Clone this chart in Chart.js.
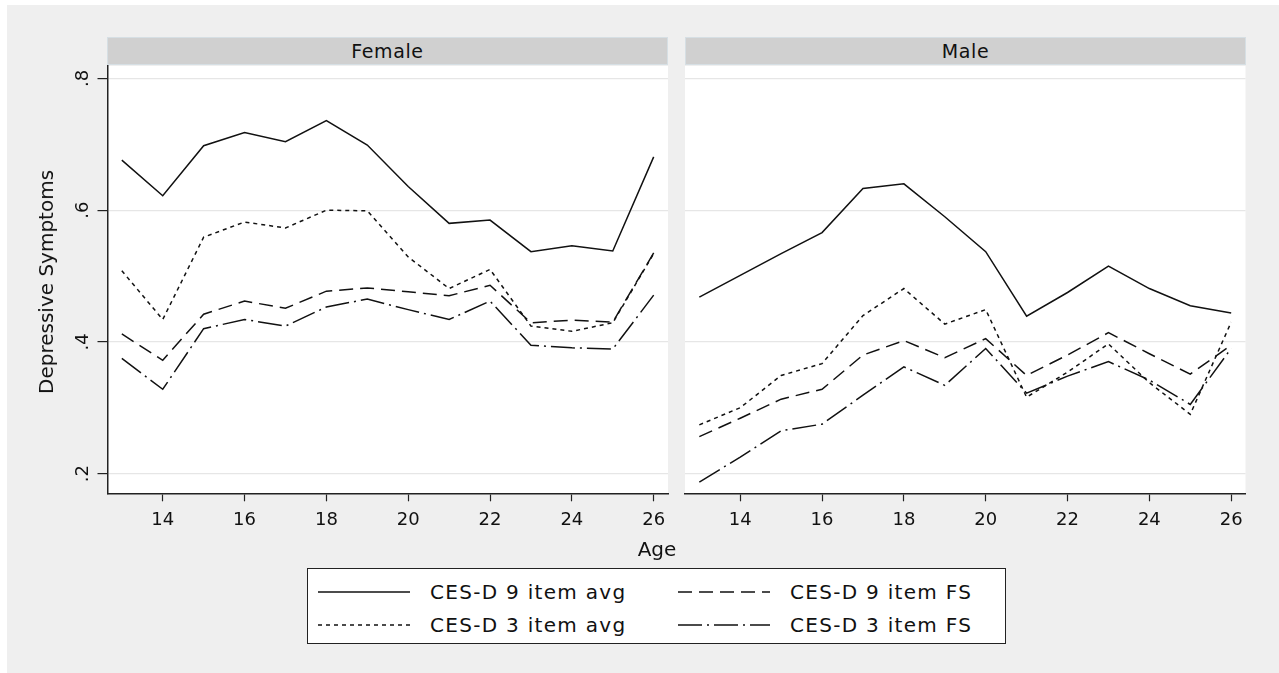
<!DOCTYPE html>
<html>
<head>
<meta charset="utf-8">
<script src="https://cdn.jsdelivr.net/npm/chart.js@4.4.1/dist/chart.umd.min.js"></script>
<style>
  html, body { margin: 0; background: #fff; }
  body { width: 1279px; height: 673px; overflow: hidden; position: relative; font-family: "DejaVu Sans", sans-serif; color: #111; }
  #fundo { position: absolute; left: 7px; top: 5px; width: 1272px; height: 668px; background: #efefef; }
  .faixa { position: absolute; top: 37px; height: 28px; background: #d0d0d0; border: 1px solid #d6dfe4; box-sizing: border-box; text-align: center; font-size: 19px; line-height: 26px; letter-spacing: 0.6px; }
  .quadro { position: absolute; top: 60px; }
  #tituloY { position: absolute; left: 46px; top: 282px; transform: translate(-50%, -50%) rotate(-90deg); font-size: 20px; white-space: nowrap; }
  #tituloX { position: absolute; left: 657px; top: 549px; transform: translate(-50%, -50%); font-size: 20px; }
  #legenda { position: absolute; left: 307px; top: 568px; width: 699px; height: 76px; background: #fff; border: 1.5px solid #222; box-sizing: border-box; }
  .item { position: absolute; height: 30px; display: flex; align-items: center; font-size: 20px; letter-spacing: 1.3px; white-space: nowrap; }
  .item svg { margin-right: 20px; }
</style>
</head>
<body>
<div id="fundo"></div>
<div class="faixa" style="left:107px;width:561px;">Female</div>
<div class="faixa" style="left:685px;width:561px;">Male</div>
<div class="quadro" style="left:0;"><canvas id="graficoFeminino" width="680" height="480"></canvas></div>
<div class="quadro" style="left:675px;"><canvas id="graficoMasculino" width="604" height="480"></canvas></div>
<div id="tituloY">Depressive Symptoms</div>
<div id="tituloX">Age</div>
<div id="legenda"></div>

<script>
const idades = [13, 14, 15, 16, 17, 18, 19, 20, 21, 22, 23, 24, 25, 26];
const ticksX = [14, 16, 18, 20, 22, 24, 26];
const ticksY = [0.2, 0.4, 0.6, 0.8];

const series = ["CES-D 9 item avg", "CES-D 9 item FS", "CES-D 3 item avg", "CES-D 3 item FS"];

// Female
const fem9Media = [0.676, 0.622, 0.698, 0.718, 0.704, 0.736, 0.699, 0.636, 0.580, 0.585, 0.537, 0.546, 0.538, 0.681];
const fem9FS    = [0.412, 0.372, 0.442, 0.462, 0.451, 0.477, 0.482, 0.476, 0.470, 0.486, 0.429, 0.433, 0.430, 0.535];
const fem3Media = [0.508, 0.434, 0.559, 0.582, 0.573, 0.600, 0.599, 0.529, 0.481, 0.510, 0.424, 0.416, 0.429, 0.534];
const fem3FS    = [0.375, 0.328, 0.420, 0.434, 0.424, 0.453, 0.465, 0.449, 0.434, 0.462, 0.395, 0.391, 0.389, 0.471];

// Male
const masc9Media = [0.468, 0.501, 0.534, 0.566, 0.633, 0.640, 0.590, 0.537, 0.439, 0.475, 0.515, 0.481, 0.455, 0.444];
const masc9FS    = [0.256, 0.284, 0.313, 0.328, 0.380, 0.402, 0.376, 0.405, 0.349, 0.380, 0.414, 0.382, 0.351, 0.395];
const masc3Media = [0.274, 0.300, 0.349, 0.367, 0.440, 0.481, 0.427, 0.449, 0.316, 0.354, 0.397, 0.338, 0.290, 0.430];
const masc3FS    = [0.187, 0.225, 0.265, 0.275, 0.319, 0.362, 0.334, 0.390, 0.322, 0.348, 0.370, 0.342, 0.305, 0.390];

const tracos = [[], [14, 7], [4, 4], [24, 5, 2, 5]];

const fonteTicks = { family: "DejaVu Sans", size: 18 };

const fundoBranco = {
  id: "fundoBranco",
  beforeDraw(chart) {
    const { ctx, chartArea: a } = chart;
    ctx.save();
    ctx.fillStyle = "#fff";
    ctx.fillRect(a.left, a.top, a.right - a.left, a.bottom - a.top);
    ctx.restore();
  }
};

function semPadding(s) {
  s.paddingTop = 0;
  s.paddingBottom = 0;
  s.paddingLeft = 0;
  s.paddingRight = 0;
}

function montarDatasets(valores) {
  return valores.map((serie, i) => ({
    label: series[i],
    data: idades.map((x, j) => ({ x, y: serie[j] })),
    borderColor: "#111",
    borderWidth: 1.5,
    borderDash: tracos[i],
    pointRadius: 0,
    tension: 0,
    fill: false
  }));
}

function gerarPainel(id, valores, comEixoY, larguraY, padDireita) {
  const ctx = document.getElementById(id).getContext("2d");
  new Chart(ctx, {
    type: "line",
    data: { datasets: montarDatasets(valores) },
    plugins: [fundoBranco],
    options: {
      responsive: false,
      animation: false,
      layout: { padding: { top: 6, right: padDireita, left: 0, bottom: 0 } },
      plugins: { legend: { display: false }, tooltip: { enabled: false } },
      scales: {
        x: {
          type: "linear",
          min: 12.65,
          max: 26.35,
          afterBuildTicks: s => { s.ticks = ticksX.map(v => ({ value: v })); },
          afterFit: s => { s.height = 46.7; semPadding(s); },
          ticks: { autoSkip: false, maxRotation: 0, padding: 8, color: "#111", font: fonteTicks },
          grid: { drawOnChartArea: false, tickColor: "#222", tickLength: 8, tickWidth: 1.2 },
          border: { display: true, color: "#222", width: 1.5 }
        },
        y: {
          min: 0.17,
          max: 0.819,
          afterBuildTicks: s => { s.ticks = ticksY.map(v => ({ value: v })); },
          afterFit: s => { s.width = larguraY; semPadding(s); },
          ticks: {
            display: comEixoY,
            minRotation: 90,
            maxRotation: 90,
            crossAlign: "center",
            padding: 6,
            color: "#111",
            font: fonteTicks,
            callback: v => String(v).replace(/^0/, "")
          },
          grid: { color: "#e6e6e6", lineWidth: 1.2, drawTicks: comEixoY, tickColor: "#222", tickLength: 10, tickWidth: 1.2 },
          border: { display: comEixoY, color: "#222", width: 1.5 }
        }
      }
    }
  });
}

function montarLegenda() {
  const caixa = document.getElementById("legenda");
  const posicoes = [[10, 7.5], [370, 7.5], [10, 40.5], [370, 40.5]];
  series.forEach((nome, i) => {
    const item = document.createElement("div");
    item.className = "item";
    item.style.left = posicoes[i][0] + "px";
    item.style.top = posicoes[i][1] + "px";
    const svg = `<svg width="92" height="6"><line x1="0" y1="3" x2="92" y2="3" stroke="#111" stroke-width="1.5" stroke-dasharray="${tracos[i].join(" ") || "none"}"/></svg>`;
    item.innerHTML = svg + `<span>${nome}</span>`;
    caixa.appendChild(item);
  });
}

gerarPainel("graficoFeminino", [fem9Media, fem9FS, fem3Media, fem3FS], true, 107.5, 12);
gerarPainel("graficoMasculino", [masc9Media, masc9FS, masc3Media, masc3FS], false, 10, 33.5);
montarLegenda();
</script>
</body>
</html>
